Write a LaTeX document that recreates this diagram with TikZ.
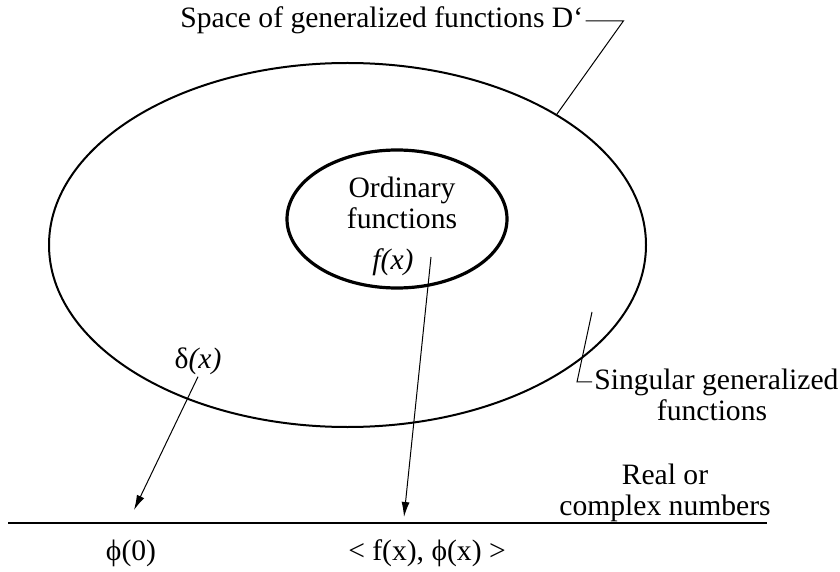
\documentclass[tikz,border=0pt]{standalone}
\usepackage{fontspec}
\setmainfont{Liberation Serif}
\usetikzlibrary{arrows.meta,shapes.geometric}
\newcommand{\lbl}{\fontsize{14.8}{15.5}\selectfont}
\begin{document}
\begin{tikzpicture}[x=0.5pt,y=-0.5pt,
	every node/.style={font=\lbl, inner sep=1pt},
	set/.style={draw, ellipse, inner sep=0pt},
	lead/.style={line width=0.5pt},
	arr/.style={-{Latex[length=7.5pt,width=4pt]}, line width=0.5pt}]
	\useasboundingbox (0,0) rectangle (840,572);
	\node[set, line width=1pt, minimum width=298.5pt, minimum height=182pt] (outer) at (347.5,245) {};
	\node[set, line width=1.6pt, minimum width=110pt, minimum height=69pt] (inner) at (397,219) {};
	\node[anchor=base west] (space) at (178,28) {Space of generalized functions D‘};
	\draw[lead] (space.east) -- ++(38,0) -- (outer.32);
	\node[anchor=base, align=center] (ord) at (402,228) {Ordinary\\functions};
	\node[anchor=base, font=\lbl\itshape] (fx) at (393,270) {f(x)};
	\node[anchor=base] (delta) at (198,368) {δ\textit{(x)}};
	\node[anchor=base west] (sing) at (592,389) {Singular generalized};
	\node[anchor=base] (singb) at (712,420) {functions};
	\coordinate (singin) at (592,312);
	\draw[lead] (sing.west) -- ++(-15,0) -- (singin);
	\coordinate (fxout) at (431,257);
	\coordinate (fxtip) at (404,517);
	\coordinate (dtip) at (134,510);
	\draw[arr] (fxout) -- (fxtip);
	\draw[arr] (delta.south) -- (dtip);
	\coordinate (numL) at (8,523);
	\coordinate (numR) at (767,523);
	\draw[line width=0.8pt] (numL) -- (numR);
	\node[anchor=base, align=center] (real) at (665,515) {Real or\\complex numbers};
	\node[anchor=base] (phi0) at (131,560) {ϕ(0)};
	\node[anchor=base] (pair) at (427,560) {< f(x), ϕ(x) >};
\end{tikzpicture}
\end{document}
